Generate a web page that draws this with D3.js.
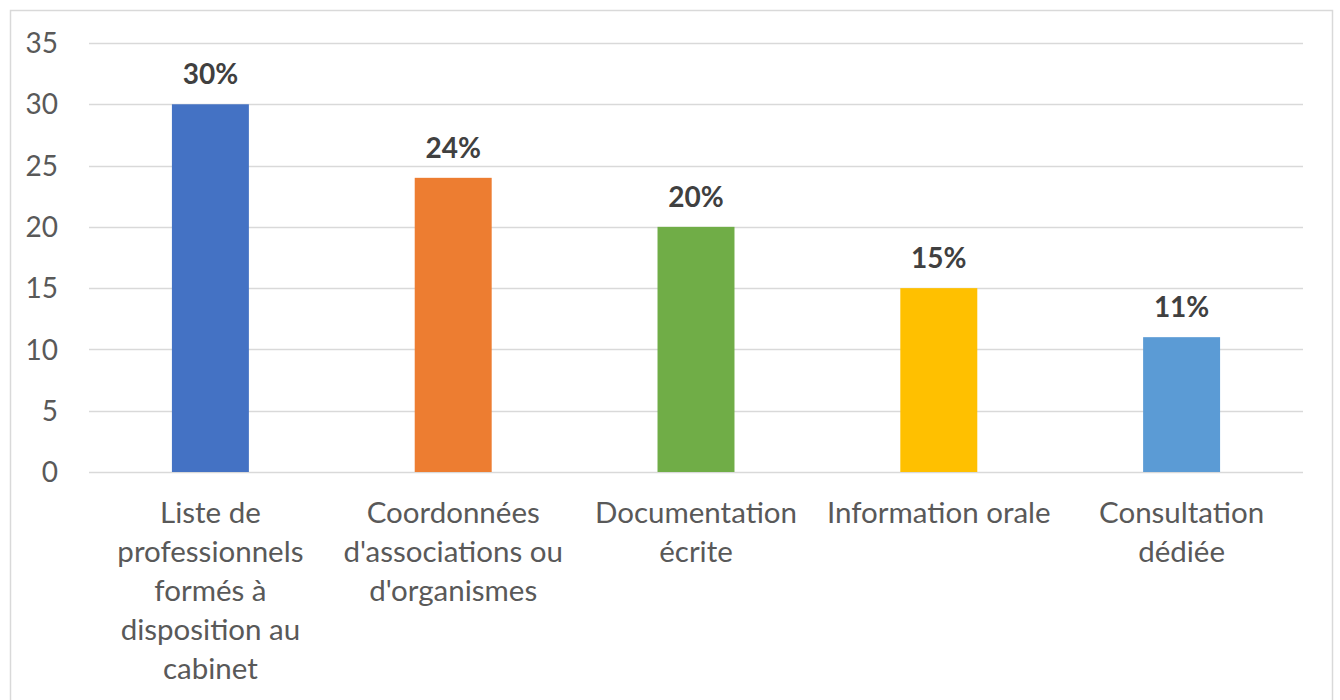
<!DOCTYPE html>
<html><head><meta charset="utf-8">
<script src="https://cdn.jsdelivr.net/npm/d3@7"></script>
<style>body{margin:0;background:#fff}svg{display:block}</style>
</head><body>
<svg id="c" width="1340" height="700"></svg>
<script>
const categories = [
  ["Liste de","professionnels","formés à","disposition au","cabinet"],
  ["Coordonnées","d'associations ou","d'organismes"],
  ["Documentation","écrite"],
  ["Information orale"],
  ["Consultation","dédiée"]
];
const values = [30, 24, 20, 15, 11];
const valueLabels = ["30%", "24%", "20%", "15%", "11%"];
const colors = ["#4472C4", "#ED7D31", "#70AD47", "#FFC000", "#5B9BD5"];
const yTicks = [0, 5, 10, 15, 20, 25, 30, 35];

const FONT = "Lato, 'Open Sans', sans-serif";
const svg = d3.select("#c");
svg.append("rect").attr("x",10.5).attr("y",10.5).attr("width",1322).attr("height",720)
  .attr("fill","#fff").attr("stroke","#d9d9d9").attr("stroke-width",1.5);

const idx = d3.range(values.length);
const x = d3.scaleBand().domain(idx).range([89,1303]).paddingInner(0.683).paddingOuter(0.3415);
const y = d3.scaleLinear().domain([0,35]).range([472,43]);

const g = svg.append("g");
g.selectAll("line.grid").data(yTicks).join("line")
  .attr("x1",89).attr("x2",1303)
  .attr("y1",d=>Math.round(y(d))+0.5).attr("y2",d=>Math.round(y(d))+0.5)
  .attr("stroke","#d9d9d9").attr("stroke-width",1.5);

g.selectAll("text.yt").data(yTicks).join("text")
  .attr("x",58).attr("y",d=>y(d)).attr("dy","0.36em")
  .attr("text-anchor","end").attr("fill","#595959")
  .style("font-family",FONT).style("font-size","28px").text(d=>d);

g.selectAll("rect.bar").data(idx).join("rect")
  .attr("x",i=>x(i)).attr("width",x.bandwidth())
  .attr("y",i=>y(values[i])).attr("height",i=>y(0)-y(values[i]))
  .attr("fill",i=>colors[i]);

g.selectAll("text.vl").data(idx).join("text")
  .attr("x",i=>x(i)+x.bandwidth()/2).attr("y",i=>y(values[i])-20)
  .attr("text-anchor","middle").attr("fill","#404040")
  .style("font-family",FONT).style("font-size","28px").style("font-weight","bold")
  .text(i=>valueLabels[i]);

const cl = g.selectAll("text.cl").data(idx).join("text")
  .attr("text-anchor","middle").attr("fill","#595959")
  .style("font-family",FONT).style("font-size","29.5px");
cl.each(function(i){
  const t = d3.select(this);
  categories[i].forEach((line,k)=>{
    t.append("tspan").attr("x",x(i)+x.bandwidth()/2).attr("y",523+k*39).text(line);
  });
});
</script>
</body></html>
